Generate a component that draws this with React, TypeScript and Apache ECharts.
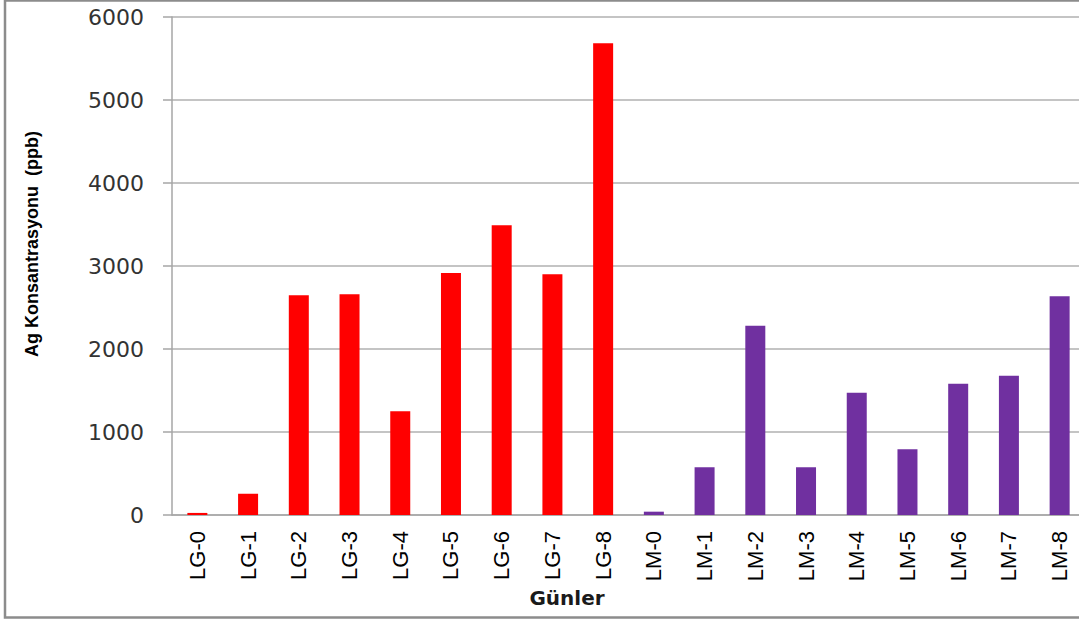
import React, { useEffect, useRef } from "react";
import * as echarts from "echarts";

const categories = [
  "LG-0", "LG-1", "LG-2", "LG-3", "LG-4", "LG-5", "LG-6", "LG-7", "LG-8",
  "LM-0", "LM-1", "LM-2", "LM-3", "LM-4", "LM-5", "LM-6", "LM-7", "LM-8",
];
const lgValues = [25, 255, 2648, 2660, 1249, 2916, 3490, 2900, 5683];
const lmValues = [40, 575, 2281, 575, 1474, 791, 1582, 1678, 2635];
const yTicks = [0, 1000, 2000, 3000, 4000, 5000, 6000];
const yTitle = "Ag Konsantrasyonu  (ppb)";
const xTitle = "Günler";
const lgColor = "#ff0000";
const lmColor = "#7030a0";

export default function App() {
  const ref = useRef<HTMLDivElement>(null);
  useEffect(() => {
    if (!ref.current) return;
    const chart = echarts.init(ref.current, null, { renderer: "svg" });
    const data = [
      ...lgValues.map((v) => ({ value: v, itemStyle: { color: lgColor } })),
      ...lmValues.map((v) => ({ value: v, itemStyle: { color: lmColor } })),
    ];
    chart.setOption({
      animation: false,
      backgroundColor: "#ffffff",
      grid: { left: 172, top: 17, width: 913, height: 498, outerBoundsMode: "none", containLabel: false },
      xAxis: {
        type: "category",
        data: categories,
        axisLine: { show: true, lineStyle: { color: "#a6a6a6", width: 1.5 } },
        axisTick: { show: false },
        axisLabel: {
          rotate: 90,
          margin: 16,
          interval: 0,
          color: "#000000",
          fontFamily: "Liberation Sans",
          fontSize: 22,
        },
      },
      yAxis: {
        type: "value",
        min: yTicks[0],
        max: yTicks[yTicks.length - 1],
        interval: 1000,
        axisLine: { show: true, lineStyle: { color: "#a6a6a6", width: 1.5 } },
        axisTick: { show: true, length: 9, lineStyle: { color: "#a6a6a6", width: 1.5 } },
        splitLine: { show: true, lineStyle: { color: "#b0b0b0", width: 1.5 } },
        axisLabel: {
          margin: 28,
          color: "#333333",
          fontFamily: "DejaVu Sans",
          fontSize: 22,
          formatter: (v: number) => String(v),
        },
      },
      graphic: [
        {
          type: "rect",
          shape: { x: 5, y: 0.5, width: 1100, height: 617 },
          style: { fill: "none", stroke: "#8c8c8c", lineWidth: 2.5 },
          silent: true,
        },
        {
          type: "text",
          x: 32,
          y: 244,
          rotation: Math.PI / 2,
          style: {
            text: yTitle,
            fontFamily: "Liberation Sans",
            fontWeight: "bold",
            fontSize: 18,
            fill: "#000000",
            align: "center",
            verticalAlign: "middle",
          },
        },
        {
          type: "text",
          x: 567,
          y: 598,
          style: {
            text: xTitle,
            fontFamily: "DejaVu Sans",
            fontWeight: "bold",
            fontSize: 20,
            fill: "#1a1a1a",
            align: "center",
            verticalAlign: "middle",
          },
        },
      ],
      series: [
        {
          type: "bar",
          data,
          barWidth: 20,
        },
      ],
    });
    return () => chart.dispose();
  }, []);
  return (
    <div
      ref={ref}
      style={{ position: "fixed", left: 0, top: 0, width: 1079, height: 621 }}
    />
  );
}
